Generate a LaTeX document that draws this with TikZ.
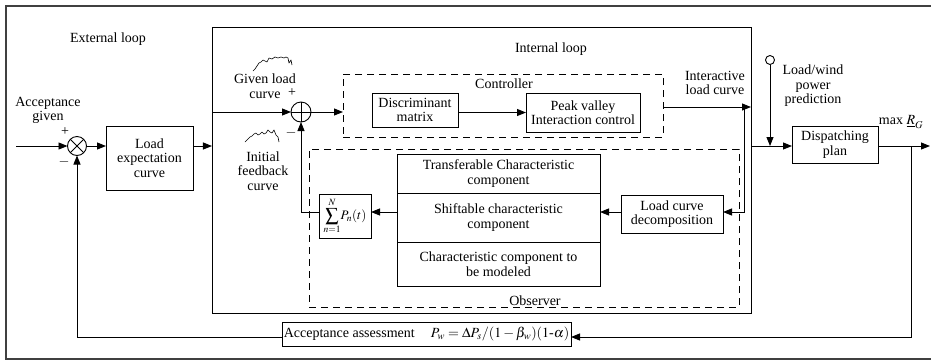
\documentclass[tikz,border=0pt]{standalone}
\usepackage{mathptmx}
\usepackage[no-math]{fontspec}
\setmainfont{Liberation Serif}
\newfontfamily\labelfont{Liberation Serif}
\usetikzlibrary{arrows.meta}

\begin{document}
\begin{tikzpicture}[x=1bp,y=-1bp,
  every node/.style={font=\labelfont\fontsize{14bp}{14.5bp}\selectfont, inner sep=0pt, outer sep=0pt},
  blk/.style={draw, line width=0.9bp, align=center},
  dbox/.style={draw, line width=0.9bp, dash pattern=on 7bp off 5bp},
  ln/.style={line width=0.9bp},
  arr/.style={ln, -{Triangle[length=9bp,width=7bp]}},
  lbl/.style={align=center},
  junc/.style={draw, circle, line width=0.9bp, minimum size=19bp},
  wave/.style={line width=0.6bp, line join=round},
]
\useasboundingbox (0,0) rectangle (931,361);

% outer frame
\draw[line width=1.4bp, black!75] (931,6) -- (6,6) -- (6,359) -- (931,359);

% loop containers
\node[draw, line width=0.9bp, minimum width=539bp, minimum height=286bp] (internal) at (481.5,170) {};
\node[dbox, minimum width=320bp, minimum height=63bp] (ctrl) at (503,105.5) {};
\node[dbox, minimum width=430bp, minimum height=158bp] (obs) at (524,228) {};

% blocks
\node[blk, minimum width=87bp, minimum height=64bp] (lec) at (149.5,158) {Load\\expectation\\curve};
\node[blk, minimum width=86bp, minimum height=34bp] (disc) at (415,110) {Discriminant\\matrix};
\node[blk, minimum width=114bp, minimum height=39bp] (peak) at (583,112.5) {Peak valley\\Interaction control};
\node[blk, minimum width=203bp, minimum height=39bp] (top) at (498.5,173.5) {Transferable Characteristic\\component};
\node[blk, minimum width=203bp, minimum height=49bp] (mid) at (498.5,217.5) {Shiftable characteristic\\component};
\node[blk, minimum width=203bp, minimum height=44bp] (bot) at (498.5,264) {Characteristic component to\\be modeled};
\node[blk, minimum width=52bp, minimum height=44bp, font=\fontsize{13bp}{14bp}\selectfont] (sum) at (345,216)
  {$\displaystyle\sum_{n=1}^{N}\!P_n(t)$};
\node[blk, minimum width=102bp, minimum height=38bp] (lcd) at (672,214) {Load curve\\decomposition};
\node[blk, minimum width=86bp, minimum height=37bp] (disp) at (835,144.5) {Dispatching\\plan};
\node[blk, minimum width=289bp, minimum height=24bp] (acc) at (426.5,334)
  {Acceptance assessment\hspace{16bp}$P_w=\Delta P_s/(1-\beta_w)(1\mbox{-}\alpha)$};

% junctions
\node[junc] (mul) at (77,146) {};
\draw[ln] (mul.north west) -- (mul.south east) (mul.north east) -- (mul.south west);
\node[junc, minimum size=20bp] (add) at (301,112) {};
\draw[ln] (add.north) -- (add.south) (add.west) -- (add.east);
\node[draw, circle, line width=0.9bp, minimum size=9bp] (pred) at (770,60) {};

% reference coordinates
\coordinate (in) at (16,146);
\coordinate (row) at (0,212);
\coordinate (fb) at (0,337);
\coordinate (tap) at (744,107);
\coordinate (br) at (911,146);
\coordinate (out) at (930,146);

% signal flow
\draw[arr] (in) -- (mul.west);
\draw[arr] (mul.east) -- (mul.east -| lec.west);
\draw[arr] (lec.east |- in) -- (internal.west |- in);
\draw[arr] (internal.west |- add) -- (add.west);
\draw[arr] (add.east) -- (add.east -| ctrl.west);
\draw[arr] (disc.east |- peak.west) -- (peak.west);
\draw[arr] (ctrl.east |- tap) -- (internal.east |- tap);
\draw[arr] (tap) |- (lcd.east |- row);
\draw[arr] (lcd.west |- row) -- (mid.east |- row);
\draw[arr] (mid.west |- row) -- (sum.east |- row);
\draw[arr] (sum.west |- row) -| (add.south);
\draw[arr] (pred.south) -- (pred.south |- in);
\draw[arr] (internal.east |- in) -- (disp.west |- in);
\draw[arr] (disp.east |- in) -- (out);
\draw[arr] (br) |- (acc.east |- fb);
\draw[arr] (acc.west |- fb) -| (mul.south);

% labels
\node[lbl] (extl) at (108,39) {External loop};
\node[lbl] (intl) at (551,49) {Internal loop};
\node[lbl] (accg) at (48,110.5) {Acceptance\\given};
\node (p1) at (65,132) {+};
\node (m1) at (64,162) {$-$};
\node[lbl] (given) at (265,86) {Given load\\curve};
\node (p2) at (292,93) {+};
\node (m2) at (291,133) {$-$};
\node[lbl] (initfb) at (263,171) {Initial\\feedback\\curve};
\node[lbl] (inter) at (715,83) {Interactive\\load curve};
\node[lbl] (predl) at (813,86) {Load/wind\\power\\prediction};
\node (maxr) at (901,122) {max $\underline{R}_G$};
\node (ctrll) at (504,84) {Controller};
\node[anchor=base] (obsl) at (535,305.5) {Observer};

% load curve sketches
\draw[wave] (253,71) -- (255,69) -- (257,66) -- (259,63) -- (261,62) -- (263,60) -- (265,61)
  -- (267,62) -- (269,58) -- (272,59) -- (275,57) -- (278,58) -- (281,57) -- (284,58)
  -- (286,57) -- (288,58) -- (289,63) -- (291,60) -- (292,65);
\draw[wave] (245,142) -- (247,140) -- (250,137) -- (252,136) -- (254,134) -- (256,133)
  -- (258,135) -- (260,134) -- (262,132) -- (264,134) -- (266,133) -- (268,130)
  -- (270,132) -- (272,133) -- (274,130) -- (276,135) -- (278,137) -- (279,142);
\end{tikzpicture}
\end{document}
